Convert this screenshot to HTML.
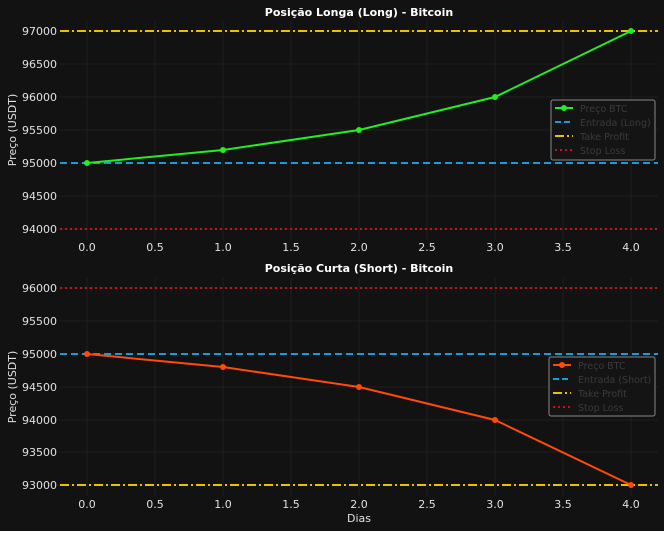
<!DOCTYPE html>
<html><head><style>body{margin:0;background:#fff}svg{display:block}text{font-family:"DejaVu Sans","Liberation Sans",sans-serif}</style></head><body>
<svg width="664" height="535" xmlns="http://www.w3.org/2000/svg">
<rect width="664" height="531" fill="#121212"/>
<g stroke="#222" stroke-width="0.8">
<line x1="87" y1="21" x2="87" y2="239"/><line x1="155" y1="21" x2="155" y2="239"/><line x1="223" y1="21" x2="223" y2="239"/><line x1="291" y1="21" x2="291" y2="239"/><line x1="359" y1="21" x2="359" y2="239"/><line x1="427" y1="21" x2="427" y2="239"/><line x1="495" y1="21" x2="495" y2="239"/><line x1="563" y1="21" x2="563" y2="239"/><line x1="631" y1="21" x2="631" y2="239"/>
<line x1="60" y1="31" x2="658" y2="31"/><line x1="60" y1="64" x2="658" y2="64"/><line x1="60" y1="97" x2="658" y2="97"/><line x1="60" y1="130" x2="658" y2="130"/><line x1="60" y1="163" x2="658" y2="163"/><line x1="60" y1="196" x2="658" y2="196"/><line x1="60" y1="229" x2="658" y2="229"/>
<line x1="87" y1="278" x2="87" y2="495"/><line x1="155" y1="278" x2="155" y2="495"/><line x1="223" y1="278" x2="223" y2="495"/><line x1="291" y1="278" x2="291" y2="495"/><line x1="359" y1="278" x2="359" y2="495"/><line x1="427" y1="278" x2="427" y2="495"/><line x1="495" y1="278" x2="495" y2="495"/><line x1="563" y1="278" x2="563" y2="495"/><line x1="631" y1="278" x2="631" y2="495"/>
<line x1="60" y1="288" x2="658" y2="288"/><line x1="60" y1="321" x2="658" y2="321"/><line x1="60" y1="354" x2="658" y2="354"/><line x1="60" y1="387" x2="658" y2="387"/><line x1="60" y1="420" x2="658" y2="420"/><line x1="60" y1="452" x2="658" y2="452"/><line x1="60" y1="485" x2="658" y2="485"/>
</g>
<g fill="#e0e0e0" font-size="11" text-anchor="end">
<text x="57" y="35">97000</text><text x="57" y="68">96500</text><text x="57" y="101">96000</text><text x="57" y="134">95500</text><text x="57" y="167">95000</text><text x="57" y="200">94500</text><text x="57" y="233">94000</text>
<text x="57" y="292">96000</text><text x="57" y="325">95500</text><text x="57" y="358">95000</text><text x="57" y="391">94500</text><text x="57" y="424">94000</text><text x="57" y="456">93500</text><text x="57" y="489">93000</text>
</g>
<g fill="#e0e0e0" font-size="11" text-anchor="middle">
<text x="87" y="251">0.0</text><text x="155" y="251">0.5</text><text x="223" y="251">1.0</text><text x="291" y="251">1.5</text><text x="359" y="251">2.0</text><text x="427" y="251">2.5</text><text x="495" y="251">3.0</text><text x="563" y="251">3.5</text><text x="631" y="251">4.0</text>
<text x="87" y="508">0.0</text><text x="155" y="508">0.5</text><text x="223" y="508">1.0</text><text x="291" y="508">1.5</text><text x="359" y="508">2.0</text><text x="427" y="508">2.5</text><text x="495" y="508">3.0</text><text x="563" y="508">3.5</text><text x="631" y="508">4.0</text>
<text x="359" y="522">Dias</text>
</g>
<g fill="#fff" font-size="11" font-weight="bold" text-anchor="middle">
<text x="359" y="16">Posição Longa (Long) - Bitcoin</text>
<text x="359" y="272">Posição Curta (Short) - Bitcoin</text>
</g>
<text transform="translate(16,130) rotate(-90)" fill="#e0e0e0" font-size="11" text-anchor="middle">Preço (USDT)</text>
<text transform="translate(16,387) rotate(-90)" fill="#e0e0e0" font-size="11" text-anchor="middle">Preço (USDT)</text>
<g stroke-width="2" fill="none">
<line x1="60" y1="31" x2="658" y2="31" stroke="#e6c200" stroke-dasharray="9,3,2,3"/>
<line x1="60" y1="163" x2="658" y2="163" stroke="#1a9ad6" stroke-dasharray="7,4"/>
<line x1="60" y1="229" x2="658" y2="229" stroke="#c81414" stroke-dasharray="2,3"/>
<polyline points="87,163 223,150 359,130 495,97 631,31" stroke="#22ee22"/>
<line x1="60" y1="288" x2="658" y2="288" stroke="#c81414" stroke-dasharray="2,3"/>
<line x1="60" y1="354" x2="658" y2="354" stroke="#1a9ad6" stroke-dasharray="7,4"/>
<line x1="60" y1="485" x2="658" y2="485" stroke="#e6c200" stroke-dasharray="9,3,2,3"/>
<polyline points="87,354 223,367 359,387 495,420 631,485" stroke="#ff4a0a"/>
</g>
<g fill="#22ee22"><circle cx="87" cy="163" r="3"/><circle cx="223" cy="150" r="3"/><circle cx="359" cy="130" r="3"/><circle cx="495" cy="97" r="3"/><circle cx="631" cy="31" r="3"/></g>
<g fill="#ff4a0a"><circle cx="87" cy="354" r="3"/><circle cx="223" cy="367" r="3"/><circle cx="359" cy="387" r="3"/><circle cx="495" cy="420" r="3"/><circle cx="631" cy="485" r="3"/></g>
<g font-size="9.5" fill="#3a3a3a">
<rect x="551" y="100" width="104" height="60" rx="2" fill="#141414" stroke="#888"/>
<line x1="555" y1="108" x2="573" y2="108" stroke="#22ee22" stroke-width="2"/><circle cx="564" cy="108" r="3" fill="#22ee22"/>
<line x1="555" y1="122" x2="573" y2="122" stroke="#1a9ad6" stroke-width="2" stroke-dasharray="6,3"/>
<line x1="555" y1="136" x2="573" y2="136" stroke="#e6c200" stroke-width="2" stroke-dasharray="9,3,2,3"/>
<line x1="555" y1="150" x2="573" y2="150" stroke="#c81414" stroke-width="2" stroke-dasharray="2,3"/>
<text x="580" y="112">Preço BTC</text><text x="580" y="126">Entrada (Long)</text><text x="580" y="140">Take Profit</text><text x="580" y="154">Stop Loss</text>
<rect x="549" y="357" width="106" height="59" rx="2" fill="#141414" stroke="#888"/>
<line x1="553" y1="365" x2="571" y2="365" stroke="#ff4a0a" stroke-width="2"/><circle cx="562" cy="365" r="3" fill="#ff4a0a"/>
<line x1="553" y1="379" x2="571" y2="379" stroke="#1a9ad6" stroke-width="2" stroke-dasharray="6,3"/>
<line x1="553" y1="393" x2="571" y2="393" stroke="#e6c200" stroke-width="2" stroke-dasharray="9,3,2,3"/>
<line x1="553" y1="407" x2="571" y2="407" stroke="#c81414" stroke-width="2" stroke-dasharray="2,3"/>
<text x="578" y="369">Preço BTC</text><text x="578" y="383">Entrada (Short)</text><text x="578" y="397">Take Profit</text><text x="578" y="411">Stop Loss</text>
</g>
</svg>
</body></html>
